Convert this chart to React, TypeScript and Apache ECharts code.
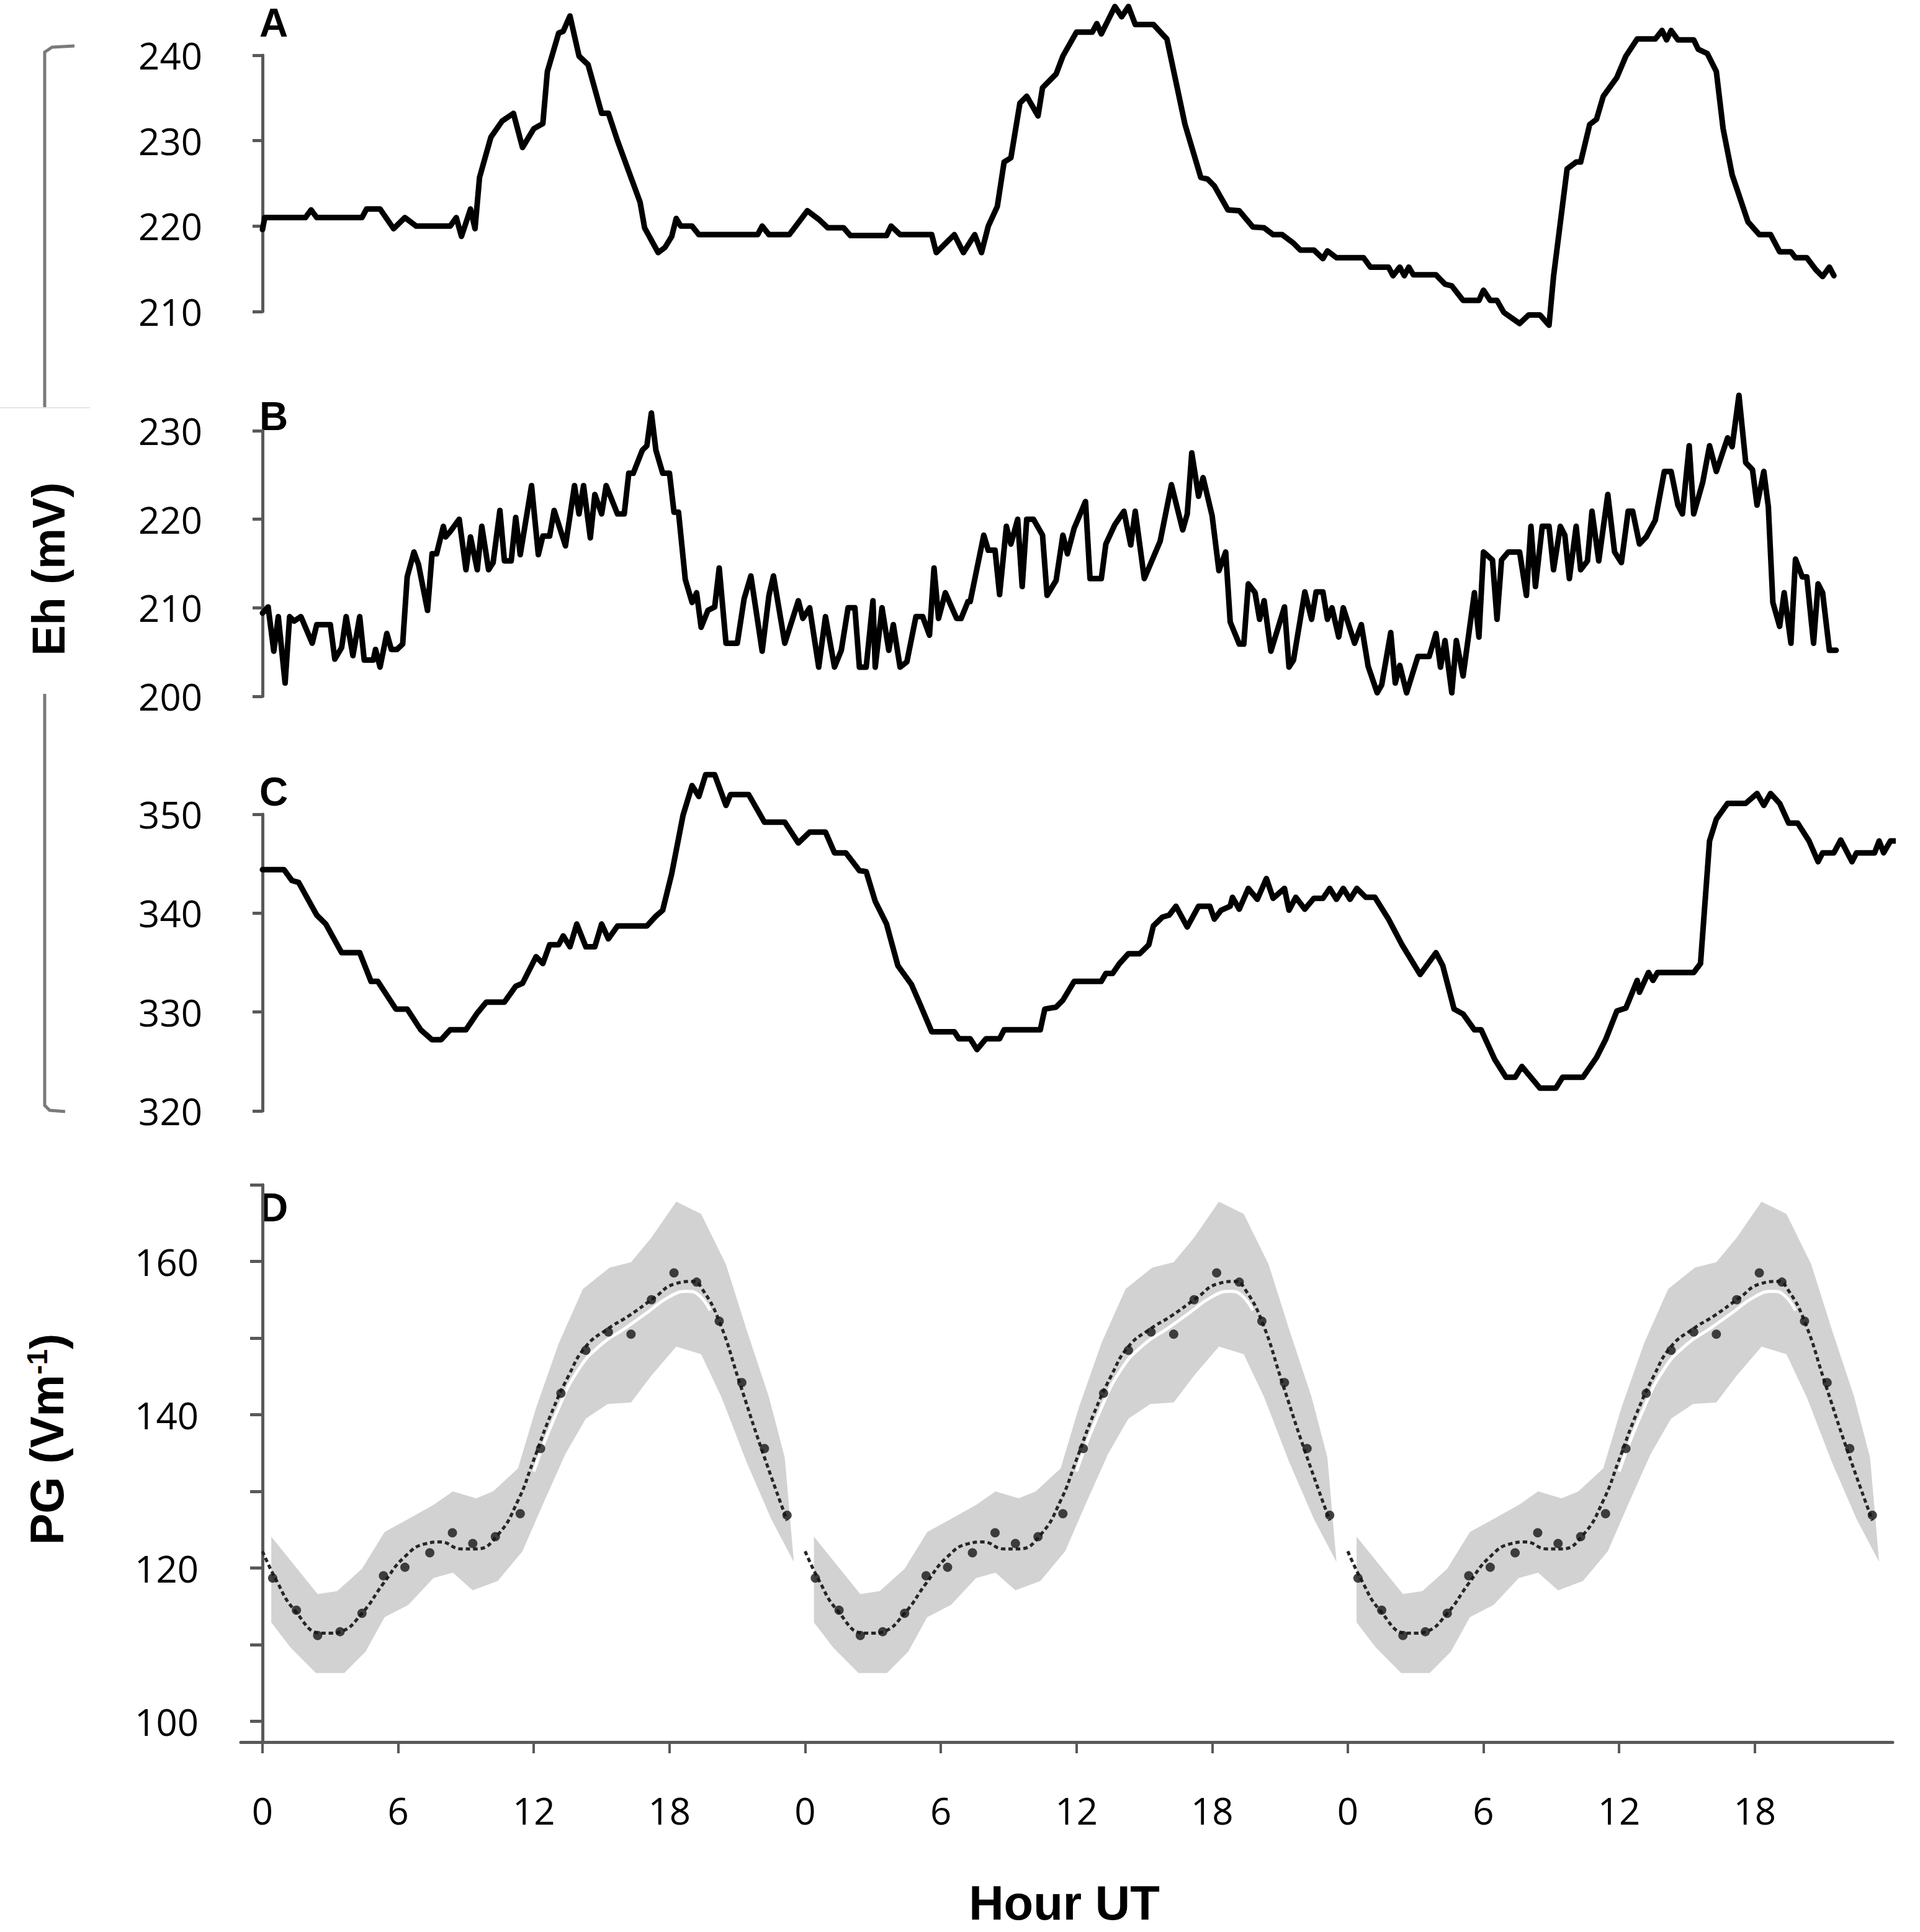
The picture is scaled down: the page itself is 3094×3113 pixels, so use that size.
import React, { useEffect, useRef } from "react";
import * as echarts from "echarts";

// ---------- Panel A (Eh, mV) : [hour, mV] ----------
const panelA: [number, number][] = [
  [0, 219.6], [0.1, 221], [1.9, 221], [2.15, 221.9], [2.4, 221], [4.4, 221], [4.6, 222], [5.2, 222], [5.8, 219.7],
  [6.3, 221], [6.8, 220], [8.3, 220], [8.57, 221], [8.8, 218.8], [9.2, 222], [9.4, 219.7], [9.6, 225.7], [10.1, 230.4],
  [10.6, 232.3], [11.1, 233.2], [11.5, 229.2], [12.0, 231.4], [12.4, 232], [12.6, 238.1], [13.1, 242.6], [13.3, 242.8],
  [13.6, 244.6], [14.0, 239.9], [14.4, 238.9], [15.0, 233.2], [15.3, 233.2], [15.7, 230], [16.7, 222.8], [16.9, 219.8],
  [17.5, 216.9], [17.8, 217.5], [18.1, 218.8], [18.3, 220.9], [18.5, 220], [19.0, 220], [19.3, 219], [21.9, 219],
  [22.1, 220], [22.4, 219], [23.3, 219], [24.1, 221.8], [24.6, 220.8], [25.0, 219.8], [25.7, 219.8], [26.0, 218.9],
  [27.6, 218.9], [27.8, 220], [28.2, 219], [29.6, 219], [29.8, 216.9], [30.6, 219], [31.0, 216.9], [31.5, 219],
  [31.8, 216.9], [32.1, 220], [32.5, 222.3], [32.8, 227.5], [33.1, 228], [33.5, 234.4], [33.8, 235.2], [34.3, 232.9],
  [34.5, 236.2], [35.1, 237.8], [35.4, 239.9], [36.0, 242.7], [36.7, 242.7], [36.9, 243.7], [37.1, 242.5], [37.7, 245.7],
  [38.0, 244.5], [38.3, 245.7], [38.6, 243.6], [39.4, 243.6], [40.0, 241.9], [40.8, 231.9], [41.5, 225.7], [41.8, 225.5],
  [42.1, 224.7], [42.7, 221.9], [43.2, 221.8], [43.8, 219.9], [44.3, 219.8], [44.7, 219], [45.1, 219], [45.6, 218],
  [45.9, 217.2], [46.5, 217.2], [46.9, 216.2], [47.1, 217.1], [47.5, 216.3], [48.7, 216.3], [49.0, 215.2], [49.8, 215.2],
  [50.0, 214.2], [50.3, 215.2], [50.5, 214.2], [50.7, 215.2], [50.9, 214.3], [51.9, 214.3], [52.3, 213.2], [52.6, 213],
  [53.1, 211.3], [53.8, 211.3], [54.0, 212.5], [54.3, 211.3], [54.6, 211.3], [54.9, 209.9], [55.6, 208.6], [56.0, 209.6],
  [56.5, 209.6], [56.9, 208.4], [57.1, 214.1], [57.7, 226.7], [58.1, 227.5], [58.3, 227.5], [58.7, 231.9], [59.0, 232.5],
  [59.3, 235.2], [59.9, 237.4], [60.3, 239.9], [60.8, 241.9], [61.6, 241.9], [61.9, 242.9], [62.1, 241.8], [62.3, 242.9],
  [62.6, 241.8], [63.3, 241.8], [63.5, 240.7], [63.9, 240.2], [64.3, 238.1], [64.6, 231.4], [65.0, 226], [65.7, 220.5],
  [66.2, 219], [66.7, 219], [67.1, 217], [67.6, 217], [67.8, 216.3], [68.3, 216.3], [68.7, 214.9], [69.0, 214.1],
  [69.3, 215.2], [69.5, 214.2],
];

// ---------- Panel B (Eh, mV) ----------
const panelB: [number, number][] = [
  [0, 209.4], [0.25, 210.1], [0.5, 205.1], [0.7, 209], [1.0, 201.5], [1.2, 209], [1.4, 208.5], [1.7, 209], [2.2, 206],
  [2.4, 208.1], [3.0, 208.1], [3.2, 204.2], [3.5, 205.5], [3.7, 209], [4.0, 204.6], [4.3, 209], [4.5, 204.1], [4.9, 204.1],
  [5.0, 205.3], [5.2, 203.3], [5.5, 207.1], [5.7, 205.3], [5.95, 205.3], [6.2, 205.9], [6.4, 213.5], [6.7, 216.3],
  [6.9, 214.9], [7.3, 209.7], [7.5, 216.1], [7.7, 216.1], [8.0, 219.2], [8.1, 218], [8.3, 218.6], [8.7, 220], [9.0, 214.3],
  [9.2, 218], [9.5, 214.3], [9.7, 219.2], [10.0, 214.3], [10.2, 215.1], [10.5, 221], [10.7, 215.3], [11.0, 215.3],
  [11.2, 220.2], [11.4, 216], [11.9, 223.8], [12.2, 216], [12.4, 218.1], [12.7, 218.1], [12.9, 221], [13.4, 217],
  [13.8, 223.8], [14.0, 220.6], [14.2, 223.8], [14.5, 217.9], [14.7, 222.8], [15.0, 220.6], [15.2, 223.8], [15.7, 220.6],
  [16.0, 220.6], [16.2, 225.2], [16.4, 225.2], [16.8, 227.8], [17.0, 228.3], [17.2, 232], [17.4, 227.8], [17.7, 225.2],
  [18.0, 225.2], [18.2, 220.8], [18.4, 220.8], [18.7, 213.2], [19.0, 210.6], [19.2, 211.7], [19.4, 207.8], [19.7, 209.7],
  [20.0, 210.1], [20.2, 214.5], [20.5, 206], [21.0, 206], [21.3, 211], [21.6, 213.6], [22.1, 205.1], [22.4, 211.4],
  [22.6, 213.6], [23.1, 206], [23.7, 210.8], [23.9, 208.8], [24.2, 210], [24.6, 203.3], [24.9, 209], [25.3, 203.3],
  [25.6, 205.2], [25.9, 210], [26.2, 210], [26.4, 203.3], [26.7, 203.3], [27.0, 210.8], [27.1, 203.3], [27.4, 210],
  [27.7, 205.2], [27.9, 208.1], [28.2, 203.3], [28.5, 203.9], [28.9, 209], [29.2, 209], [29.5, 206.9], [29.7, 214.5],
  [29.9, 208.8], [30.2, 211.7], [30.7, 208.8], [30.9, 208.8], [31.2, 210.7], [31.3, 210.7], [31.9, 218.2], [32.1, 216.5],
  [32.4, 216.5], [32.6, 211.5], [32.9, 219.2], [33.1, 217.2], [33.4, 220], [33.6, 212.4], [33.8, 220], [34.1, 220],
  [34.5, 218.2], [34.7, 211.4], [35.1, 213.1], [35.4, 218.2], [35.6, 216.1], [35.9, 219], [36.4, 222], [36.6, 213.3],
  [37.1, 213.3], [37.3, 217.2], [37.7, 219.4], [38.1, 220.9], [38.4, 217.1], [38.6, 220.9], [39.0, 213.3], [39.7, 217.5],
  [40.2, 223.9], [40.7, 218.8], [40.9, 220.6], [41.1, 227.5], [41.4, 222.6], [41.6, 224.7], [42.0, 220.4], [42.3, 214.2],
  [42.6, 216.3], [42.8, 208.4], [43.2, 205.9], [43.4, 205.9], [43.6, 212.7], [43.9, 211.7], [44.1, 208.7], [44.3, 210.8],
  [44.6, 205.1], [45.2, 210.1], [45.4, 203.3], [45.6, 204.1], [46.1, 211.8], [46.4, 208.7], [46.6, 211.8], [46.9, 211.8],
  [47.1, 208.7], [47.3, 210], [47.6, 206.7], [47.8, 210], [48.3, 206], [48.6, 208.1], [48.9, 203.4], [49.3, 200.4],
  [49.5, 201.3], [49.9, 207.2], [50.1, 201.5], [50.3, 203.5], [50.6, 200.4], [51.1, 204.5], [51.6, 204.5], [51.9, 207.1],
  [52.1, 203.3], [52.3, 206.3], [52.6, 200.4], [52.8, 206.3], [53.1, 202.3], [53.6, 211.7], [53.8, 206.7], [54.0, 216.3],
  [54.4, 215.4], [54.6, 208.7], [54.8, 215.4], [55.1, 216.3], [55.6, 216.3], [55.9, 211.4], [56.1, 219.2], [56.3, 212.4],
  [56.6, 219.2], [56.9, 219.2], [57.1, 214.3], [57.4, 219.2], [57.6, 218.2], [57.8, 213.3], [58.1, 219.2], [58.3, 214.3],
  [58.6, 215.3], [58.8, 220.9], [59.1, 215.3], [59.5, 222.8], [59.8, 216.3], [60.1, 215.1], [60.4, 220.9], [60.6, 220.9],
  [60.9, 217.2], [61.2, 218], [61.6, 219.9], [62.0, 225.4], [62.3, 225.4], [62.6, 221.6], [62.8, 220.6], [63.1, 228.3],
  [63.3, 220.6], [63.7, 224.2], [64.0, 228.3], [64.3, 225.4], [64.8, 229.2], [65.0, 228.2], [65.3, 234], [65.6, 226.4],
  [65.9, 225.6], [66.1, 221.6], [66.4, 225.4], [66.6, 221.4], [66.8, 210.6], [67.1, 207.9], [67.3, 211.7], [67.6, 206],
  [67.8, 215.5], [68.1, 213.5], [68.3, 213.5], [68.6, 206], [68.8, 212.7], [69.0, 211.7], [69.3, 205.2], [69.6, 205.2],
];

// ---------- Panel C (Eh, mV) ----------
const panelC: [number, number][] = [
  [0, 344.4], [0.95, 344.4], [1.3, 343.3], [1.6, 343.1], [2.4, 339.8], [2.8, 338.9], [3.5, 336], [4.3, 336], [4.8, 333.1],
  [5.1, 333.1], [5.9, 330.3], [6.4, 330.3], [7.0, 328.2], [7.5, 327.2], [7.9, 327.2], [8.3, 328.2], [9.0, 328.2],
  [9.5, 329.9], [9.9, 331], [10.7, 331], [11.2, 332.6], [11.5, 332.9], [12.1, 335.6], [12.4, 334.9], [12.7, 336.8],
  [13.1, 336.8], [13.3, 337.7], [13.6, 336.6], [13.9, 338.9], [14.3, 336.6], [14.7, 336.6], [15.0, 338.9], [15.3, 337.4],
  [15.7, 338.7], [17.0, 338.7], [17.4, 339.7], [17.7, 340.3], [18.1, 344], [18.6, 349.9], [19.0, 352.9], [19.3, 351.8],
  [19.6, 354], [20.0, 354], [20.5, 350.9], [20.7, 352], [21.5, 352], [22.2, 349.2], [23.1, 349.2], [23.7, 347.1],
  [24.2, 348.2], [24.9, 348.2], [25.3, 346.1], [25.8, 346.1], [26.4, 344.3], [26.7, 344.2], [27.1, 341.2], [27.6, 338.9],
  [28.1, 334.7], [28.7, 332.8], [29.1, 330.7], [29.6, 328], [30.6, 328], [30.8, 327.3], [31.3, 327.3], [31.6, 326.2],
  [32.0, 327.3], [32.6, 327.3], [32.8, 328.2], [34.4, 328.2], [34.6, 330.3], [35.1, 330.5], [35.4, 331.2], [35.9, 333.1],
  [37.1, 333.1], [37.3, 333.9], [37.6, 333.9], [37.9, 334.9], [38.3, 335.9], [38.8, 335.9], [39.2, 336.8], [39.4, 338.7],
  [39.8, 339.6], [40.1, 339.8], [40.4, 340.7], [40.9, 338.6], [41.4, 340.7], [41.9, 340.7], [42.1, 339.4], [42.4, 340.3],
  [42.8, 340.7], [42.9, 341.6], [43.2, 340.4], [43.6, 342.5], [44.0, 341.4], [44.4, 343.5], [44.7, 341.5], [45.2, 342.5],
  [45.4, 340.3], [45.7, 341.6], [46.1, 340.4], [46.5, 341.5], [46.9, 341.5], [47.2, 342.5], [47.5, 341.4], [47.8, 342.5],
  [48.1, 341.4], [48.4, 342.5], [48.8, 341.6], [49.2, 341.6], [49.8, 339.4], [50.4, 336.8], [51.2, 333.8], [51.9, 336],
  [52.2, 334.7], [52.7, 330.3], [53.1, 329.8], [53.6, 328.2], [53.9, 328.2], [54.5, 325.2], [55.0, 323.4], [55.4, 323.4],
  [55.7, 324.5], [56.5, 322.3], [57.2, 322.3], [57.5, 323.4], [58.4, 323.4], [59.0, 325.4], [59.4, 327.2], [59.9, 330.1],
  [60.3, 330.4], [60.8, 333.2], [60.9, 332], [61.3, 334], [61.5, 333.2], [61.7, 334], [63.3, 334], [63.6, 334.9],
  [64.0, 347.3], [64.3, 349.5], [64.8, 351.1], [65.6, 351.1], [66.1, 352.1], [66.4, 350.9], [66.7, 352.1], [67.1, 351.1],
  [67.5, 349.1], [67.9, 349.1], [68.4, 347.3], [68.8, 345.2], [69.0, 346.1], [69.5, 346.1], [69.8, 347.4], [70.3, 345.2],
  [70.5, 346.1], [71.3, 346.1], [71.5, 347.3], [71.7, 346.1], [72.0, 347.3], [72.2, 347.3],
];

// ---------- Panel D (PG, V/m) : one day, repeated for each day ----------
const dayOffsets = [0, 24, 48];
const fitHour = [0, 0.63, 1.42, 2.63, 3.0, 3.46, 4.4, 5.35, 6.3, 7.24, 7.87, 8.8, 9.45, 10.4, 11.3, 11.97, 12.75, 13.54, 14.3, 15.27, 16.2, 17.3, 18.26, 19.05, 19.45, 20.2, 21.1, 22.04, 23.2];
const fitPG = [122.2, 118.3, 114.5, 111.5, 111.5, 111.7, 114.1, 118.0, 121.5, 123.2, 123.4, 122.5, 122.5, 124.3, 128.8, 133.9, 140.0, 145.1, 148.9, 151.2, 152.9, 155.2, 157.1, 157.4, 156.4, 152.2, 144.2, 135.8, 126.2];
const whiteHour = [12.0, 13.0, 14.0, 15.0, 16.0, 17.0, 18.0, 18.8, 19.3, 19.8];
const whitePG = [132.6, 140.2, 146.0, 149.2, 151.2, 153.3, 155.4, 156.1, 155.6, 153.6];
const obsHour = [0.45, 1.5, 2.44, 3.43, 4.4, 5.35, 6.3, 7.4, 8.4, 9.3, 10.3, 11.4, 12.3, 13.2, 14.3, 15.3, 16.3, 17.2, 18.2, 19.2, 20.2, 21.2, 22.2, 23.2];
const obsPG = [118.7, 114.5, 111.2, 111.7, 114.1, 119.0, 120.1, 122.0, 124.6, 123.2, 124.1, 127.1, 135.6, 142.8, 148.4, 150.8, 150.5, 155.0, 158.5, 157.3, 152.2, 144.2, 135.6, 126.9];
const bandUpHour = [0.39, 2.44, 3.3, 4.4, 5.4, 6.45, 7.6, 8.42, 9.45, 10.2, 11.3, 12.1, 13.1, 14.17, 15.35, 16.3, 17.2, 18.3, 19.4, 20.5, 21.4, 22.4, 23.1, 23.5];
const bandUpPG = [124.1, 116.6, 117.0, 119.9, 124.7, 126.4, 128.3, 130.0, 129.1, 130.0, 133.0, 140.9, 149.3, 156.4, 159.2, 159.9, 163.1, 167.8, 166.2, 159.6, 151.2, 142.3, 134.4, 120.8];
const bandLoHour = [0.39, 1.25, 2.36, 3.62, 4.56, 5.4, 6.45, 7.56, 8.42, 9.3, 10.4, 11.5, 12.4, 13.4, 14.3, 15.27, 16.3, 17.2, 18.3, 19.4, 20.3, 21.4, 22.5, 23.5];
const bandLoPG = [112.9, 109.6, 106.3, 106.3, 109.1, 113.6, 115.2, 118.7, 119.4, 117.1, 118.3, 122.2, 128.3, 134.9, 139.5, 141.4, 141.6, 145.1, 148.9, 147.9, 142.3, 133.9, 126.4, 120.8];

// ---------- Axis ticks / labels ----------
const hourTicks = [0, 6, 12, 18, 24, 30, 36, 42, 48, 54, 60, 66];
const pgTicks = [100, 110, 120, 130, 140, 150, 160, 170];
const pgLabels = [100, 120, 140, 160];

const AXIS_COLOR = "#595959";
const TICK_FONT = "'Open Sans', 'DejaVu Sans', sans-serif";
const TITLE_FONT = "'Liberation Sans', Arial, sans-serif";

const X_MIN = -0.96;
const X_MAX = 72.1;

function ehYAxis(gridIndex: number, min: number, max: number) {
  return {
    type: "value",
    gridIndex,
    min,
    max,
    interval: 10,
    axisLine: { show: true, lineStyle: { color: AXIS_COLOR, width: 5 } },
    axisTick: { show: true, inside: false, length: 16, lineStyle: { color: AXIS_COLOR, width: 5 } },
    axisLabel: { show: true, fontSize: 60, fontFamily: TICK_FONT, color: "#000", margin: 62 },
    splitLine: { show: false },
  };
}

function hiddenX(gridIndex: number) {
  return { type: "value", gridIndex, min: X_MIN, max: X_MAX, show: false, splitLine: { show: false } };
}

function ehLine(idx: number, data: [number, number][]) {
  return {
    type: "line",
    xAxisIndex: idx,
    yAxisIndex: idx,
    data,
    showSymbol: false,
    clip: false,
    lineStyle: { color: "#000", width: 9, join: "round", cap: "round" },
    silent: true,
  };
}

export default function App() {
  const ref = useRef<HTMLDivElement>(null);

  useEffect(() => {
    document.body.style.margin = "0";
    if (!ref.current) return;
    const chart = echarts.init(ref.current, null, { renderer: "svg" });

    const dSeries: any[] = [];
    dSeries.push({
      type: "custom",
      xAxisIndex: 3,
      yAxisIndex: 3,
      data: dayOffsets.map((d) => [d, 120]),
      encode: { x: 0, y: 1 },
      silent: true,
      z: 1,
      renderItem: (params: any, api: any) => {
        const off = api.value(0);
        const pts: number[][] = [];
        bandUpHour.forEach((h, i) => pts.push(api.coord([off + h, bandUpPG[i]])));
        for (let i = bandLoHour.length - 1; i >= 0; i--) pts.push(api.coord([off + bandLoHour[i], bandLoPG[i]]));
        return { type: "polygon", shape: { points: pts }, style: { fill: "#d2d2d2", stroke: "none" } };
      },
    });
    dayOffsets.forEach((off) => {
      dSeries.push({
        type: "line",
        xAxisIndex: 3,
        yAxisIndex: 3,
        data: whiteHour.map((h, i) => [off + h, whitePG[i]]),
        smooth: true,
        showSymbol: false,
        lineStyle: { color: "#ffffff", width: 5 },
        silent: true,
        z: 2,
      });
      dSeries.push({
        type: "line",
        xAxisIndex: 3,
        yAxisIndex: 3,
        data: fitHour.map((h, i) => [off + h, fitPG[i]]),
        smooth: true,
        showSymbol: false,
        lineStyle: { color: "#262626", width: 5, type: [7, 5] },
        silent: true,
        z: 3,
      });
      dSeries.push({
        type: "scatter",
        xAxisIndex: 3,
        yAxisIndex: 3,
        data: obsHour.map((h, i) => [off + h, obsPG[i]]),
        symbol: "circle",
        symbolSize: 15,
        itemStyle: { color: "#161616" },
        silent: true,
        z: 4,
      });
    });

    const option: any = {
      animation: false,
      backgroundColor: "#ffffff",
      grid: [
        { left: 388, right: 44, top: 89, height: 413 },
        { left: 388, right: 44, top: 694, height: 428 },
        { left: 388, right: 44, top: 1312, height: 478 },
        { left: 388, right: 44, top: 1909, height: 898 },
      ],
      xAxis: [
        hiddenX(0),
        hiddenX(1),
        hiddenX(2),
        {
          type: "value",
          gridIndex: 3,
          min: X_MIN,
          max: X_MAX,
          axisLine: { show: true, onZero: false, lineStyle: { color: AXIS_COLOR, width: 5 } },
          axisTick: {
            show: true,
            inside: false,
            length: 18,
            customValues: hourTicks,
            lineStyle: { color: AXIS_COLOR, width: 4 },
          },
          axisLabel: {
            show: true,
            customValues: hourTicks,
            formatter: (v: number) => String(Math.round(v) % 24),
            fontSize: 60,
            fontFamily: TICK_FONT,
            color: "#000",
            margin: 80,
          },
          splitLine: { show: false },
        },
      ],
      yAxis: [
        ehYAxis(0, 210, 240),
        ehYAxis(1, 200, 230),
        ehYAxis(2, 320, 350),
        {
          type: "value",
          gridIndex: 3,
          min: 97.3,
          max: 170,
          axisLine: { show: true, lineStyle: { color: AXIS_COLOR, width: 5 } },
          axisTick: {
            show: true,
            inside: false,
            length: 20,
            customValues: pgTicks,
            lineStyle: { color: AXIS_COLOR, width: 5 },
          },
          axisLabel: {
            show: true,
            customValues: pgLabels,
            fontSize: 60,
            fontFamily: TICK_FONT,
            color: "#000",
            margin: 68,
          },
          splitLine: { show: false },
        },
      ],
      series: [ehLine(0, panelA), ehLine(1, panelB), ehLine(2, panelC), ...dSeries],
      graphic: [
        {
          type: "text",
          x: 78,
          y: 917,
          rotation: Math.PI / 2,
          style: {
            text: "Eh (mV)",
            fontSize: 74,
            fontWeight: "bold",
            fontFamily: TITLE_FONT,
            fill: "#000",
            align: "center",
            verticalAlign: "middle",
            textAlign: "center",
            textVerticalAlign: "middle",
          },
        },
        {
          type: "text",
          x: 75,
          y: 2319,
          rotation: Math.PI / 2,
          style: {
            text: "{m|PG (Vm}{s|-1}{m|)}",
            fill: "#000",
            align: "center",
            verticalAlign: "middle",
            textAlign: "center",
            textVerticalAlign: "middle",
            rich: {
              m: { fontSize: 76, fontWeight: "bold", fontFamily: TITLE_FONT, fill: "#000", verticalAlign: "bottom" },
              s: { fontSize: 46, fontWeight: "bold", fontFamily: TITLE_FONT, fill: "#000", verticalAlign: "top" },
            },
          },
        },
        {
          type: "text",
          x: 1715,
          y: 3066,
          style: {
            text: "Hour UT",
            fontSize: 78,
            fontWeight: "bold",
            fontFamily: TITLE_FONT,
            fill: "#000",
            align: "center",
            verticalAlign: "middle",
            textAlign: "center",
            textVerticalAlign: "middle",
          },
        },
        ...[
          ["A", 37],
          ["B", 671],
          ["C", 1276],
          ["D", 1946],
        ].map(([t, y]) => ({
          type: "text",
          x: 418,
          y: y as number,
          style: {
            text: t as string,
            fontSize: 64,
            fontWeight: "bold",
            fontFamily: TITLE_FONT,
            fill: "#000",
            align: "left",
            verticalAlign: "middle",
            textAlign: "left",
            textVerticalAlign: "middle",
          },
        })),
        {
          type: "polyline",
          shape: { points: [[120, 74], [84, 76], [72, 84], [72, 656]] },
          style: { stroke: "#7a7a7a", lineWidth: 5, fill: "none" },
        },
        {
          type: "polyline",
          shape: { points: [[72, 1118], [72, 1781], [80, 1789], [105, 1791]] },
          style: { stroke: "#7a7a7a", lineWidth: 5, fill: "none" },
        },
        {
          type: "line",
          shape: { x1: 0, y1: 657, x2: 145, y2: 657 },
          style: { stroke: "#e6e6e6", lineWidth: 2 },
        },
      ],
    };

    chart.setOption(option);
    return () => {
      chart.dispose();
    };
  }, []);

  return <div ref={ref} style={{ width: "3094px", height: "3113px" }} />;
}
